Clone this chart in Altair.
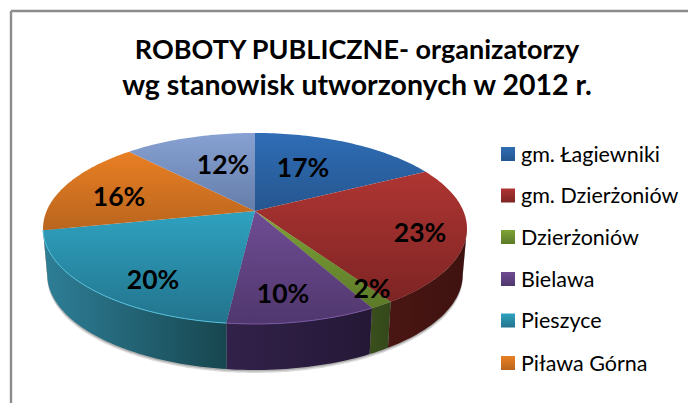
import math
import altair as alt
import pandas as pd

# --- data
categories = ["gm. Łagiewniki", "gm. Dzierżoniów", "Dzierżoniów", "Bielawa", "Pieszyce", "Piława Górna", "Świdnica"]
shares = [17.4, 23.3, 1.5, 9.6, 20.0, 16.2, 12.0]
legend_categories = categories[:6]
title_lines = ["ROBOTY PUBLICZNE- organizatorzy", "wg stanowisk utworzonych w 2012 r."]

# --- styling
top_light = ["#2F6DB5", "#AE3532", "#7FA238", "#6F4C93", "#2EA2C0", "#E97F24", "#87A1D2"]
top_dark = ["#25568F", "#7E2424", "#5C7A28", "#50376E", "#23738C", "#B9651E", "#647DAA"]
wall_a = ["#2F6DB5", "#4A1613", "#3A4F1C", "#32214A", "#2E7F98", "#B9651E", "#647DAA"]
wall_b = ["#25568F", "#3E1210", "#34481A", "#241836", "#17464F", "#B9651E", "#647DAA"]
rim_light = [None, None, None, "#7A58A3", "#55C3DE", None, None]

CX, AY, R, S, K, DEPTH, SHRINK = 255.0, 211.0, 208.4, 92.3, 0.183, 46.0, 0.98
W0, W1 = 0.279, 0.721  # visible part of the side wall (fractions of the turn)
label_xy = [(303, 168.5), (420, 233.5), (372, 289.5), (283, 294.5), (153, 280.5), (119, 197.5), (223, 165.5)]
legend_rows = [154, 195.5, 237, 279, 320.5, 363]
LEGEND_TEXT_SHIFT = 1.5
FONT = "Lato"

x_scale = alt.Scale(domain=[8, 688], nice=False, zero=False)
y_scale = alt.Scale(domain=[403, 8], nice=False, zero=False)
X = alt.X("x:Q", scale=x_scale, axis=None)
Y = alt.Y("y:Q", scale=y_scale, axis=None)


def rim(frac):
    t = 2 * math.pi * frac
    u, v = math.sin(t), math.cos(t)
    w = 1 + K * v
    return CX + R * u / w, AY - S * v / w


def low(p):
    return CX + SHRINK * (p[0] - CX), p[1] + DEPTH


def arc(a, b):
    n = max(2, int((b - a) * 300))
    return [rim(a + (b - a) * i / n) for i in range(n + 1)]


def grad(c0, c1, horizontal=False):
    return {"gradient": "linear", "x1": 0, "y1": 0, "x2": 1 if horizontal else 0, "y2": 0 if horizontal else 1,
            "stops": [{"offset": 0, "color": c0}, {"offset": 1, "color": c1}]}


def poly(points, fill, **kw):
    df = pd.DataFrame([{"x": p[0], "y": p[1], "o": i} for i, p in enumerate(points + points[:1])])
    return alt.Chart(df).mark_line(fill=fill, strokeWidth=0, interpolate="linear", **kw).encode(
        x=X, y=Y, order="o:Q")


def text_layer(rows, **kw):
    return alt.Chart(pd.DataFrame(rows)).mark_text(font=FONT, **kw).encode(x=X, y=Y, text="t:N")


layers = []

# frame
frame = pd.DataFrame([{"x": 11, "x2": 688, "y": 11, "y2": 11}, {"x": 11, "x2": 11, "y": 11, "y2": 403}])
layers.append(alt.Chart(frame).mark_rule(color="#8C8C8C", strokeWidth=2.4).encode(
    x=X, x2="x2:Q", y=Y, y2="y2:Q"))

# soft shadow
front = arc(W0, W1)
shadow = [low(p) for p in front]
for off, op in ((3.0, 0.25), (1.5, 0.4)):
    layers.append(poly([(p[0], p[1] + off) for p in shadow] + [front[-1], front[0]], "#707070", opacity=op))

# walls and top faces
cum = [0.0]
for s in shares:
    cum.append(cum[-1] + s / sum(shares))
for i in range(len(shares)):
    a, b = max(cum[i], W0), min(cum[i + 1], W1)
    if b > a:
        top = arc(a, b)
        layers.append(poly(top + [low(p) for p in reversed(top)], grad(wall_a[i], wall_b[i], True)))
for i in range(len(shares)):
    layers.append(poly([(CX, AY)] + arc(cum[i], cum[i + 1]), grad(top_light[i], top_dark[i])))
for i in range(len(shares)):
    a, b = max(cum[i], W0), min(cum[i + 1], W1)
    if b > a and rim_light[i]:
        df = pd.DataFrame([{"x": p[0], "y": p[1], "o": j} for j, p in enumerate(arc(a, b))])
        layers.append(alt.Chart(df).mark_line(color=rim_light[i], strokeWidth=1.0).encode(x=X, y=Y, order="o:Q"))

# percentage labels
layers.append(text_layer(
    [{"x": p[0], "y": p[1], "t": f"{round(s)}%"} for p, s in zip(label_xy, shares)],
    fontSize=26.5, fontWeight="bold", color="#000000", align="center", baseline="middle"))

# title
layers.append(text_layer([{"x": 357, "y": 59, "t": title_lines[0]}],
    fontSize=27, fontWeight="bold", color="#000000", align="center", baseline="alphabetic"))
layers.append(text_layer([{"x": 357, "y": 95, "t": title_lines[1]}],
    fontSize=28.5, fontWeight="bold", color="#000000", align="center", baseline="alphabetic"))

# legend
for i, yy in enumerate(legend_rows):
    df = pd.DataFrame([{"x": 501, "x2": 515, "y": yy - 7, "y2": yy + 7}])
    layers.append(alt.Chart(df).mark_rect(fill=grad(top_light[i], top_dark[i])).encode(
        x=X, x2="x2:Q", y=Y, y2="y2:Q"))
layers.append(text_layer(
    [{"x": 521, "y": yy + LEGEND_TEXT_SHIFT, "t": c} for yy, c in zip(legend_rows, legend_categories)],
    fontSize=21.5, color="#000000", align="left", baseline="middle"))

chart = alt.layer(*layers).properties(
    width=680, height=395, padding=0, autosize=alt.AutoSizeParams(type="none"),
    background="#FFFFFF"
).configure_view(stroke=None)

chart.save("out.html", embed_options={"renderer": "svg", "actions": False})
